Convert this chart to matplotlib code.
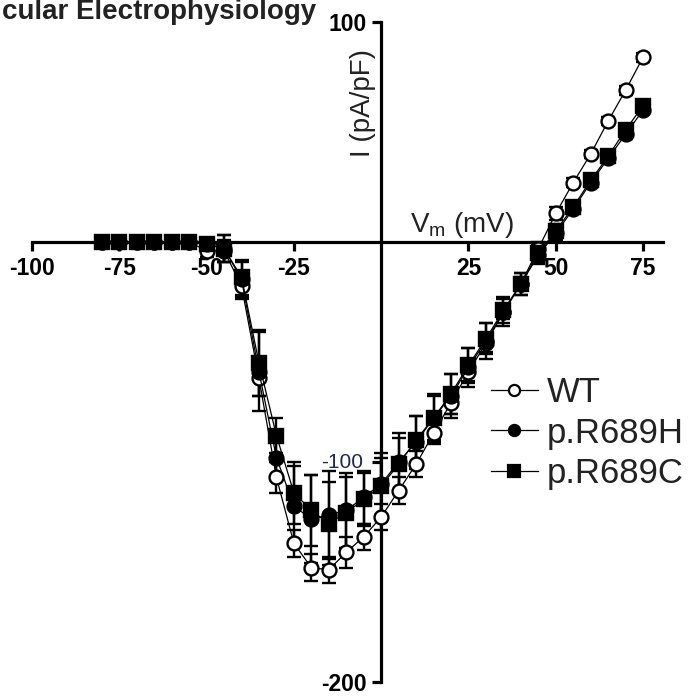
import numpy as np
import matplotlib.pyplot as plt
from matplotlib.lines import Line2D

plt.rcParams['font.family'] = ['Liberation Sans', 'DejaVu Sans']
plt.rcParams['axes.unicode_minus'] = False

# membrane potential steps (mV)
vm = list(range(-80, 80, 5))

# current density (pA/pF), mean values
wt = [0, 0, 0, 0, 0, 0, -4, -4, -20, -62, -107, -137, -148, -149, -141, -134,
      -125, -113, -101, -87, -73, -59, -46, -32, -19, -3, 13, 27, 40, 55, 69, 84]
wt_err = [1, 1, 1, 1, 1, 1, 3, 5, 6, 8, 7, 6, 6, 6, 7, 6,
          6, 6, 6, 5, 5, 4, 4, 3, 3, 3, 3, 2, 2, 2, 2, 2]

r689h = [0, 0, 0, 0, 0, 0, -1, -3, -17, -59, -98, -120, -126, -124, -122, -116,
         -110, -100, -91, -80, -70, -57, -45, -32, -19, -6, 4, 15, 27, 38, 49, 60]
r689h_err = [1, 1, 1, 1, 1, 1, 3, 6, 8, 18, 10, 18, 20, 20, 17, 12,
             14, 13, 12, 11, 10, 9, 8, 6, 5, 4, 3, 2, 2, 2, 2, 2]

r689c = [0, 0, 0, 0, 0, 0, -1, -3, -16, -55, -88, -114, -122, -128, -123, -117,
         -111, -101, -90, -80, -69, -56, -44, -31, -19, -5, 5, 16, 28, 39, 51, 62]
r689c_err = [1, 1, 1, 1, 1, 1, 3, 6, 8, 15, 8, 14, 16, 19, 16, 12,
             13, 12, 11, 10, 9, 8, 7, 6, 5, 4, 3, 2, 2, 2, 2, 2]

series = [
    ('WT', wt, wt_err, 'o', 'white'),
    ('p.R689H', r689h, r689h_err, 'o', 'black'),
    ('p.R689C', r689c, r689c_err, 's', 'black'),
]

fig = plt.figure(figsize=(6.91, 6.97), dpi=100)
W, H = 691, 697
ax = fig.add_axes([32 / W, 1 - 682 / H, (663 - 32) / W, (682 - 22) / H])

for name, y, e, m, fc in series:
    ax.errorbar(vm, y, yerr=e, color='black', lw=0.9, marker=m, ms=10,
                mfc=fc, mec='black', mew=1.7, ecolor='black', elinewidth=1.7,
                capsize=5, capthick=1.7, zorder=3)

ax.set_xlim(-100, 80.7)
ax.set_ylim(-200, 100)

ax.spines['left'].set_position(('data', 0))
ax.spines['bottom'].set_position(('data', 0))
ax.spines['right'].set_visible(False)
ax.spines['top'].set_visible(False)
for s in ['left', 'bottom']:
    ax.spines[s].set_linewidth(2.3)

ax.set_xticks([-100, -75, -50, -25, 25, 50, 75])
ax.set_yticks([100, -100, -200])
ax.set_yticklabels(['100', '', '-200'])
ax.tick_params(axis='both', direction='out', length=6.5, width=2.3,
               labelsize=16.5, pad=4)
for lab in ax.get_xticklabels() + ax.get_yticklabels():
    lab.set_fontweight('bold')

# -100 label sits under the data
ax.text(-5.2, -100, '-100', ha='right', va='center', fontsize=15,
        color='#1c2a4a', zorder=1)

ax.text(-1.5, 63, 'I (pA/pF)', rotation=90, ha='right', va='center',
        fontsize=20, color='#222222')
ax.text(23, 4.5, r'V$_\mathregular{m}$ (mV)', ha='center', va='baseline',
        fontsize=20, color='#222222')

handles = [Line2D([], [], color='black', lw=0.9, marker=m, ms=8 if m == 'o' else 9,
                  mfc=fc, mec='black', mew=1.6) for _, _, _, m, fc in series]
leg = ax.legend(handles, [s[0] for s in series], loc='upper left',
                bbox_to_anchor=(491 / W, 1 - 376 / H), bbox_transform=fig.transFigure,
                frameon=False, fontsize=25, handlelength=1.35, handletextpad=0.25,
                labelspacing=0.22, borderpad=0, borderaxespad=0)
for t in leg.get_texts():
    t.set_color('#222222')

fig.text(2 / W, 1 - 19 / H, 'cular Electrophysiology', ha='left', va='baseline',
         fontsize=20, fontweight='bold', color='#222222')

fig.savefig('out.png', dpi=100)
